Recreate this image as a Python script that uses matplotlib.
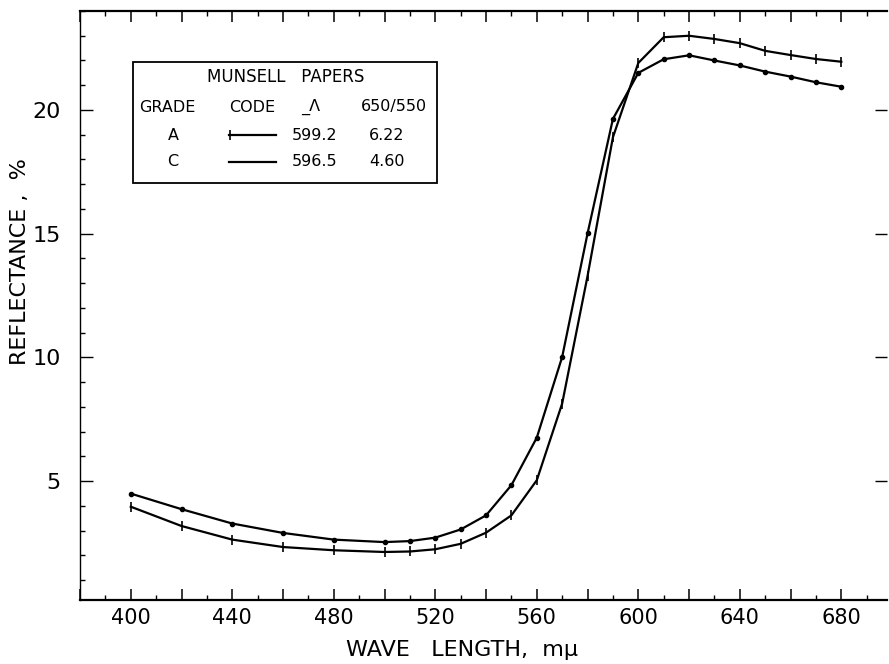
"""Munsell papers reflectance curves, grades A and C."""

import matplotlib

matplotlib.use("Agg")
import matplotlib.pyplot as plt
from matplotlib.lines import Line2D
from matplotlib.patches import Rectangle
from matplotlib.ticker import FixedLocator, FuncFormatter, MultipleLocator

plt.rcParams["font.family"] = ["DejaVu Sans"]

# wave length, m-mu
wave_length = [400, 420, 440, 460, 480, 500, 510, 520, 530, 540, 550, 560,
               570, 580, 590, 600, 610, 620, 630, 640, 650, 660, 670, 680]

# reflectance, %
grade_a = [3.97, 3.19, 2.64, 2.34, 2.21, 2.14, 2.16, 2.25, 2.47, 2.92, 3.62, 5.04,
           8.14, 13.29, 18.9, 21.9, 22.94, 23.0, 22.87, 22.70, 22.39, 22.22, 22.06, 21.95]
grade_c = [4.50, 3.87, 3.29, 2.91, 2.64, 2.54, 2.58, 2.72, 3.05, 3.62, 4.84, 6.76,
           10.02, 15.01, 19.64, 21.5, 22.05, 22.21, 22.0, 21.8, 21.55, 21.35, 21.12, 20.94]

legend_title = "MUNSELL   PAPERS"
legend_header = ["GRADE", "CODE", "_\u039b", "650/550"]
legend_grades = ["A", "C"]
legend_peak = ["599.2", "596.5"]
legend_ratio = ["6.22", "4.60"]

W, H = 889, 664


def fx(px):
    return px / W


def fy(py):
    return 1 - py / H


fig = plt.figure(figsize=(W / 100, H / 100), dpi=100)
ax = fig.add_axes([fx(80), fy(600), fx(887) - fx(80), fy(11) - fy(600)])

ax.plot(wave_length, grade_a, color="black", lw=1.6, marker="|", ms=7, mew=1.2)
ax.plot(wave_length, grade_c, color="black", lw=1.6, marker="o", ms=3)

ax.set_xlim(380, 698)
ax.set_ylim(0.2, 24.0)

ax.xaxis.set_major_locator(MultipleLocator(20))
ax.xaxis.set_minor_locator(MultipleLocator(10))
ax.xaxis.set_major_formatter(FuncFormatter(lambda v, p: f"{v:.0f}" if v % 40 == 0 and 400 <= v <= 680 else ""))
ax.yaxis.set_major_locator(FixedLocator([5, 10, 15, 20]))
ax.yaxis.set_minor_locator(MultipleLocator(1))

ax.tick_params(axis="x", which="major", direction="in", length=8, width=1.1, top=True,
               labelsize=15, pad=6)
ax.tick_params(axis="x", which="minor", direction="in", length=3.6, width=1.0, top=True)
ax.tick_params(axis="y", which="major", direction="in", length=9, width=1.0, right=True,
               labelsize=16, pad=14)
ax.tick_params(axis="y", which="minor", direction="in", length=3.6, width=1.0, right=False)

ax.spines["top"].set_linewidth(1.6)
ax.spines["bottom"].set_linewidth(1.6)
ax.spines["left"].set_linewidth(1.0)
ax.spines["right"].set_visible(False)

fig.text(fx(20), fy(262), "REFLECTANCE ,  %", rotation=90, ha="center", va="center", fontsize=16)
fig.text(fx(462), fy(650), "WAVE   LENGTH,  m\u03bc", ha="center", va="center", fontsize=16)

# legend box
fig.patches.append(Rectangle((fx(133), fy(183)), fx(437) - fx(133), fy(62) - fy(183),
                             transform=fig.transFigure, fill=False, ec="black", lw=1.3))
fig.text(fx(286), fy(77), legend_title, ha="center", va="center", fontsize=12)
for label, cx in zip(legend_header, [167, 252, 311, 394]):
    fig.text(fx(cx), fy(107), label, ha="center", va="center", fontsize=11.5)
for i, row_y in enumerate([135, 162]):
    fig.text(fx(173), fy(row_y), legend_grades[i], ha="center", va="center", fontsize=11.5)
    fig.text(fx(315), fy(row_y), legend_peak[i], ha="center", va="center", fontsize=11.5)
    fig.text(fx(387), fy(row_y), legend_ratio[i], ha="center", va="center", fontsize=11.5)
    fig.lines.append(Line2D([fx(229), fx(276)], [fy(row_y), fy(row_y)], transform=fig.transFigure,
                            color="black", lw=1.6))
fig.lines.append(Line2D([fx(230)], [fy(135)], transform=fig.transFigure, color="black",
                        marker="|", ms=7, mew=1.2))

fig.savefig("out.png", dpi=100)
